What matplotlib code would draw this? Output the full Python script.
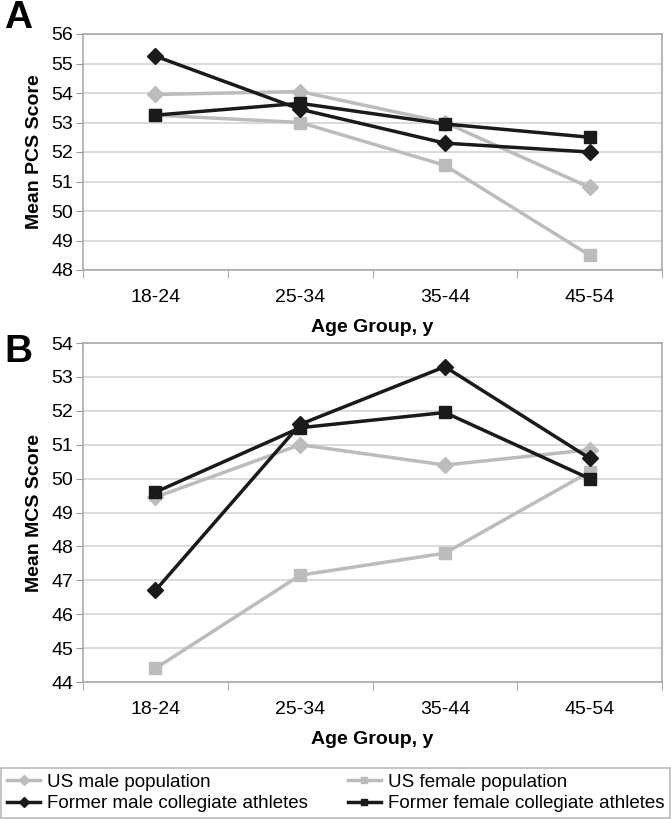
import matplotlib
matplotlib.use("Agg")
import matplotlib.pyplot as plt
from matplotlib.ticker import FixedLocator, NullFormatter

plt.rcParams['font.family'] = ['Liberation Sans', 'DejaVu Sans']

age_groups = ["18-24", "25-34", "35-44", "45-54"]

pcs_us_male = [53.95, 54.05, 53.0, 50.8]
pcs_us_female = [53.25, 53.0, 51.55, 48.5]
pcs_former_male = [55.25, 53.45, 52.3, 52.0]
pcs_former_female = [53.25, 53.65, 52.95, 52.5]

mcs_us_male = [49.45, 51.0, 50.4, 50.85]
mcs_us_female = [44.4, 47.15, 47.8, 50.2]
mcs_former_male = [46.7, 51.6, 53.3, 50.6]
mcs_former_female = [49.6, 51.5, 51.95, 50.0]

series_labels = ["US male population", "US female population",
                 "Former male collegiate athletes", "Former female collegiate athletes"]

LIGHT = "#bcbcbc"
DARK = "#1a1a1a"
GRID = "#d4d4d4"

fig = plt.figure(figsize=(6.71, 8.19), dpi=100)
W, H = 671, 819

def make_ax(top_px, bot_px):
    left, right = 83, 662
    return fig.add_axes([left / W, 1 - bot_px / H, (right - left) / W, (bot_px - top_px) / H])

axA = make_ax(34, 270)
axB = make_ax(343, 682)

def draw(ax, um, uf, fm, ff, ylim, ylabel):
    x = list(range(len(age_groups)))
    h1, = ax.plot(x, um, color=LIGHT, lw=2.5, marker="D", ms=8, mec=LIGHT, mfc=LIGHT, zorder=3)
    h2, = ax.plot(x, uf, color=LIGHT, lw=2.5, marker="s", ms=8, mec=LIGHT, mfc=LIGHT, zorder=3)
    h3, = ax.plot(x, fm, color=DARK, lw=2.5, marker="D", ms=8, mec=DARK, mfc=DARK, zorder=4)
    h4, = ax.plot(x, ff, color=DARK, lw=2.5, marker="s", ms=8, mec=DARK, mfc=DARK, zorder=4)
    ax.set_xlim(-0.5, len(age_groups) - 0.5)
    ax.set_ylim(*ylim)
    ax.set_yticks(range(ylim[0], ylim[1] + 1))
    ax.yaxis.grid(True, color=GRID, lw=1.2)
    ax.set_axisbelow(True)
    ax.set_xticks(x)
    ax.set_xticklabels(age_groups, fontsize=14)
    ax.tick_params(axis='x', which='major', length=0, pad=14)
    ax.xaxis.set_minor_locator(FixedLocator([i + 0.5 for i in range(-1, len(age_groups))]))
    ax.xaxis.set_minor_formatter(NullFormatter())
    ax.tick_params(axis='x', which='minor', length=6, color="#999999", direction='out')
    ax.tick_params(axis='y', length=5, color="#999999", labelsize=14, pad=2)
    for s in ax.spines.values():
        s.set_color("#aaaaaa")
        s.set_linewidth(1.2)
    ax.set_ylabel(ylabel, fontsize=14, fontweight='bold', labelpad=6)
    ax.set_xlabel("Age Group, y", fontsize=14, fontweight='bold', labelpad=9)
    return [h1, h2, h3, h4]

h = draw(axA, pcs_us_male, pcs_us_female, pcs_former_male, pcs_former_female, (48, 56), "Mean PCS Score")
draw(axB, mcs_us_male, mcs_us_female, mcs_former_male, mcs_former_female, (44, 54), "Mean MCS Score")

fig.text(4 / W, 1 - 18 / H, "A", fontsize=28, fontweight='bold', va='center', ha='left')
fig.text(4 / W, 1 - 352 / H, "B", fontsize=28, fontweight='bold', va='center', ha='left')

# legend fills column-wise: order so rows read (US male, US female) / (Former male, Former female)
leg = fig.legend([h[0], h[2], h[1], h[3]],
                 [series_labels[0], series_labels[2], series_labels[1], series_labels[3]],
                 ncol=2, loc='lower left',
                 bbox_to_anchor=(1 / W, 1 / H, 669 / W, 56 / H), mode='expand',
                 fontsize=13.5, frameon=True, fancybox=False, edgecolor="#aaaaaa",
                 handlelength=1.8, handletextpad=0.35, columnspacing=0.6,
                 labelspacing=0.25, borderaxespad=0, borderpad=0.3, markerscale=0.6)
leg.get_frame().set_linewidth(1.2)

fig.savefig("out.png", dpi=100)
